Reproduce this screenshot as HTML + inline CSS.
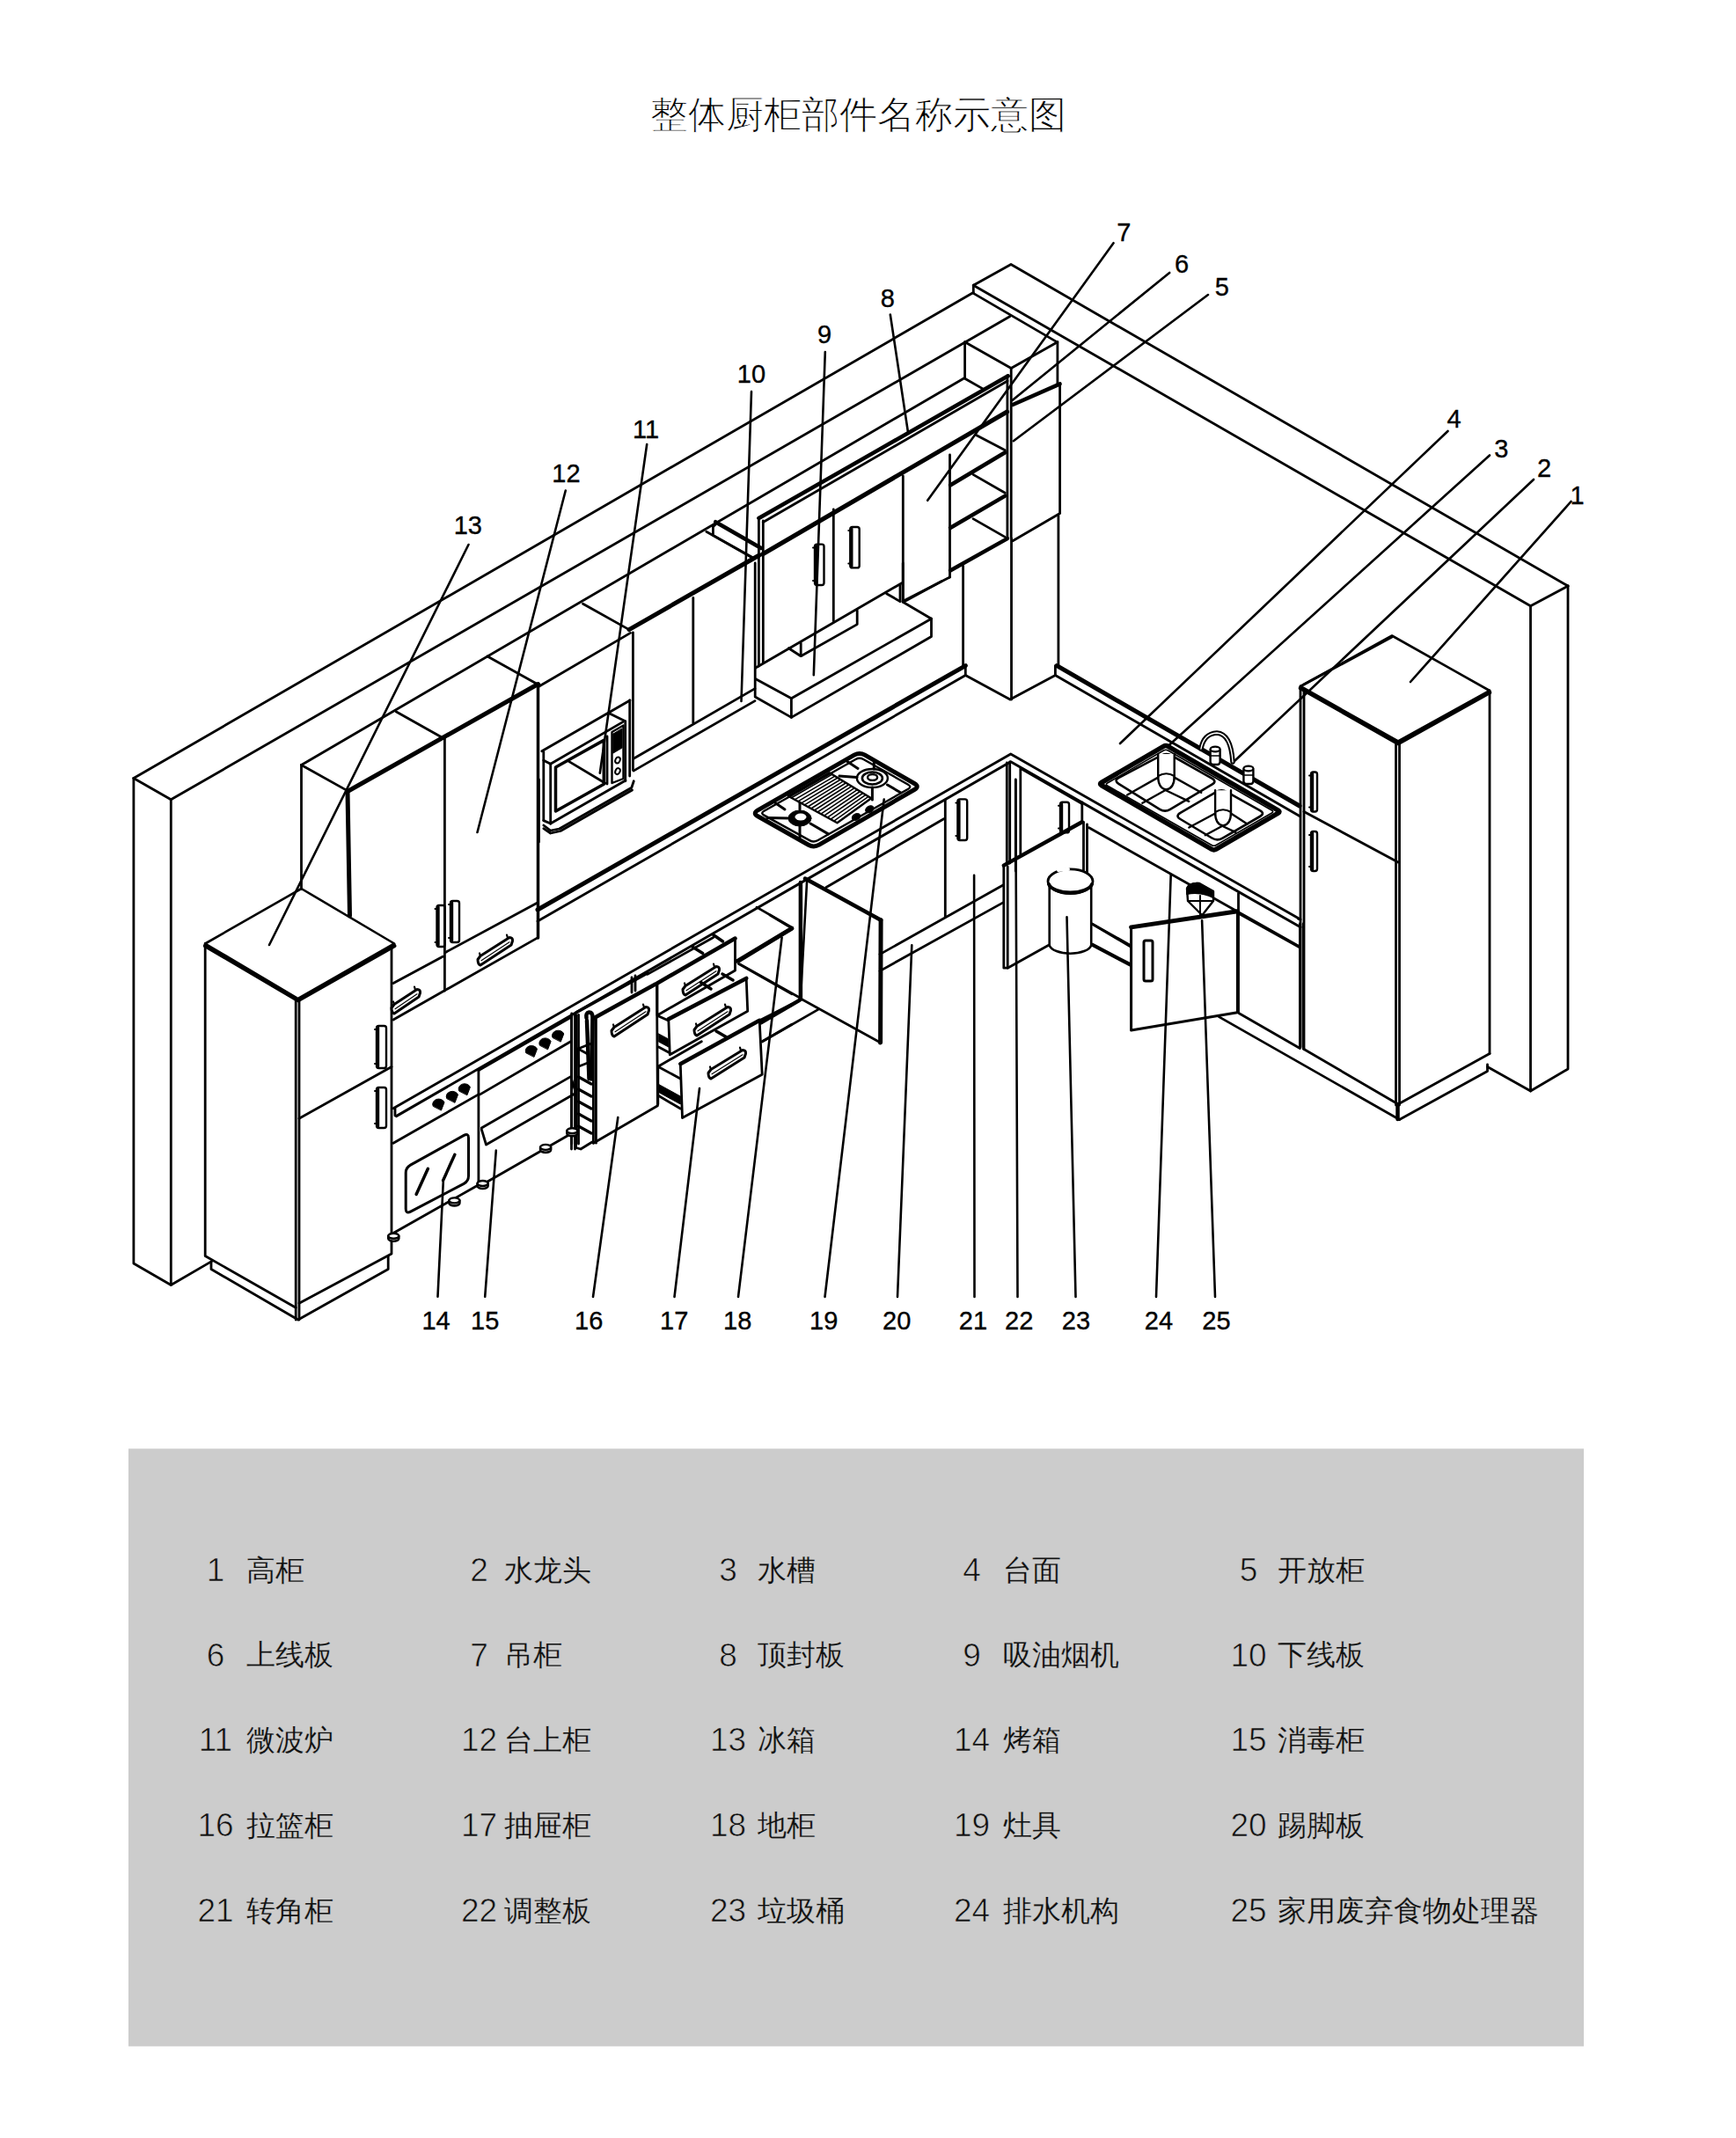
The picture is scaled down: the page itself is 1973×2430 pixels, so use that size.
<!DOCTYPE html>
<html><head><meta charset="utf-8"><style>
html,body{margin:0;padding:0;background:#fff;}
body{width:1973px;height:2430px;position:relative;overflow:hidden;font-family:"Liberation Sans",sans-serif;}
svg{position:absolute;left:0;top:0;}
</style></head><body>
<svg width="1973" height="2430" viewBox="0 0 1973 2430">
<rect x="146" y="1646.5" width="1654" height="679.3" fill="#cccccc"/>
<g fill="none" stroke="#000" stroke-linecap="round" stroke-linejoin="round">
<polyline points="151.9,884.5 1106.2,332.5" stroke-width="2.8"/>
<polyline points="151.9,884.5 194.3,908.8" stroke-width="2.8"/>
<polyline points="151.9,884.5 151.9,1436.0 194.3,1460.5" stroke-width="2.8"/>
<polyline points="194.3,908.8 194.3,1460.5 240.5,1433.6" stroke-width="2.8"/>
<polyline points="194.3,908.8 1148.0,359.5" stroke-width="2.8"/>
<polyline points="1106.3,324.2 1149.0,300.5 1782.0,666.0" stroke-width="2.8"/>
<polyline points="1106.3,324.2 1106.3,333.4 1200.2,388.1" stroke-width="2.8"/>
<polyline points="1106.3,324.2 1739.5,688.8" stroke-width="2.8"/>
<polyline points="1739.5,688.8 1782.0,666.0" stroke-width="2.8"/>
<polyline points="1739.5,688.8 1739.5,1240.0 1782.0,1215.0 1782.0,666.0" stroke-width="2.8"/>
<polyline points="1690.5,1212.5 1739.5,1240.0" stroke-width="2.8"/>
<polygon points="233.2,1072.5 342.5,1010.0 448.2,1072.5 338.8,1135.0" stroke-width="2.6" fill="#fff"/>
<polyline points="233.2,1075.0 338.8,1137.0 448.2,1075.0" stroke-width="4.5"/>
<polyline points="233.2,1072.5 233.2,1427.5 336.2,1486.2" stroke-width="2.8"/>
<polyline points="336.2,1135.0 336.2,1500.0" stroke-width="2.8"/>
<polyline points="340.0,1135.0 340.0,1500.0" stroke-width="2.8"/>
<polyline points="445.0,1077.5 445.0,1425.0 340.0,1481.2" stroke-width="2.8"/>
<polyline points="340.0,1271.2 445.0,1212.5" stroke-width="2.8"/>
<polyline points="240.0,1433.8 240.0,1442.5 338.8,1500.0 441.2,1442.5 441.2,1427.5" stroke-width="2.8"/>
<polyline points="342.5,869.5 1095.5,430.0" stroke-width="2.8"/>
<polyline points="450.0,808.8 502.5,838.2" stroke-width="2.8"/>
<polyline points="342.5,869.5 342.5,1010.0" stroke-width="2.8"/>
<polyline points="342.5,869.5 396.0,899.4" stroke-width="2.8"/>
<polyline points="395.0,899.5 397.5,1041.0" stroke-width="5"/>
<polyline points="395.0,899.5 611.5,777.5" stroke-width="5"/>
<polyline points="554.0,746.0 611.5,778.0" stroke-width="2.8"/>
<polyline points="505.4,838.0 505.4,1126.0" stroke-width="2.8"/>
<polyline points="611.5,778.0 611.5,1066.0" stroke-width="3.5"/>
<polyline points="447.0,1117.5 503.2,1087.2" stroke-width="2.8"/>
<polyline points="505.4,1082.9 611.4,1025.8" stroke-width="2.8"/>
<polyline points="447.0,1159.0 611.4,1065.6" stroke-width="2.8"/>
<polyline points="447.0,1259.8 1148.7,857.0 1478.0,1045.0" stroke-width="2.8"/>
<polyline points="450.4,1268.6 1148.7,865.8 1478.0,1053.8" stroke-width="3"/>
<polyline points="449.0,1259.8 449.0,1268.0" stroke-width="2.8"/>
<polygon points="1478.0,780.0 1582.0,722.5 1693.0,785.0 1589.0,842.5" stroke-width="2.6" fill="#fff"/>
<polyline points="1478.0,782.0 1589.0,845.0 1693.0,787.0" stroke-width="4.5"/>
<polyline points="1482.0,778.0 1582.0,724.0" stroke-width="2.8"/>
<polyline points="1478.0,780.0 1478.0,1190.0" stroke-width="2.8"/>
<polyline points="1482.0,785.0 1482.0,1192.5" stroke-width="2.8"/>
<polyline points="1586.5,842.5 1586.5,1256.0" stroke-width="2.8"/>
<polyline points="1590.5,844.0 1590.5,1256.0" stroke-width="2.8"/>
<polyline points="1588.5,1255.0 1588.5,1272.0" stroke-width="4.5"/>
<polyline points="1693.0,785.0 1693.0,1197.5" stroke-width="2.8"/>
<polyline points="1482.0,1192.5 1589.0,1255.0 1693.0,1197.5" stroke-width="2.8"/>
<polyline points="1482.0,922.5 1589.0,980.0" stroke-width="2.8"/>
<polyline points="1590.5,1272.5 1690.5,1217.5 1690.5,1210.0" stroke-width="2.8"/>
<polyline points="612.8,780.0 716.5,719.4" stroke-width="2.8"/>
<polyline points="662.5,686.2 715.0,715.6" stroke-width="2.8"/>
<polyline points="715.0,715.6 863.0,631.0" stroke-width="5"/>
<polyline points="719.4,718.8 719.4,875.0" stroke-width="2.8"/>
<polyline points="612.4,886.0 612.4,957.0" stroke-width="2.8"/>
<polyline points="615.8,853.8 716.0,796.0" stroke-width="2.8"/>
<polyline points="715.7,795.8 715.7,882.0" stroke-width="2.8"/>
<polyline points="617.8,854.6 617.8,932.6" stroke-width="2.8"/>
<polyline points="617.8,864.2 625.7,868.3" stroke-width="2.8"/>
<polyline points="625.7,868.3 707.8,820.6" stroke-width="2.8"/>
<polyline points="692.9,811.1 710.7,819.8" stroke-width="2.8"/>
<polyline points="625.7,868.3 625.7,936.0" stroke-width="2.8"/>
<polyline points="710.7,819.8 710.7,887.8" stroke-width="2.8"/>
<polyline points="625.7,936.0 711.0,887.0" stroke-width="2.8"/>
<polyline points="617.8,932.6 625.7,936.0" stroke-width="2.8"/>
<polygon points="631.5,872.0 686.3,841.4 686.3,891.2 631.5,922.0" stroke-width="3.5" fill="none"/>
<polyline points="646.5,865.4 688.0,890.3" stroke-width="2.8"/>
<polyline points="690.0,837.0 690.0,891.0" stroke-width="2.8"/>
<polygon points="695.5,832.0 708.5,824.5 708.5,885.0 695.5,890.0" stroke-width="2.4" fill="none"/>
<polygon points="697,834 707,828 707,850 697,856" fill="#000"/>
<ellipse cx="702" cy="864" rx="2.6" ry="3.6" stroke-width="2" fill="none" transform="rotate(25 702 864)"/>
<ellipse cx="702" cy="876.6" rx="2.6" ry="3.6" stroke-width="2" fill="none" transform="rotate(25 702 876.6)"/>
<polyline points="617.8,938.0 625.7,944.0 635.7,942.0 717.8,895.3 720.3,887.8" stroke-width="2.8"/>
<polyline points="617.8,941.7 625.7,947.0 637.0,944.5 718.5,898.0" stroke-width="2.8"/>
<polyline points="787.8,679.4 787.8,821.3" stroke-width="2.8"/>
<polyline points="720.0,862.3 858.0,782.6" stroke-width="2.8"/>
<polyline points="720.0,876.1 858.0,796.6" stroke-width="2.8"/>
<polyline points="802.8,604.3 852.6,632.6" stroke-width="2.8"/>
<polyline points="813.2,593.2 865.0,623.0" stroke-width="4.5"/>
<polyline points="810.4,598.8 810.4,608.4 856.0,634.0" stroke-width="2.8"/>
<polyline points="810.4,598.8 813.2,596.0" stroke-width="2.8"/>
<polyline points="862.4,589.0 862.4,757.0" stroke-width="2.8"/>
<polyline points="867.3,592.0 867.3,753.0" stroke-width="2.8"/>
<polyline points="862.4,589.0 1145.7,427.3" stroke-width="4.5"/>
<polyline points="867.3,593.5 1145.0,433.0" stroke-width="2.8"/>
<polyline points="866.5,630.0 1144.6,468.0" stroke-width="5"/>
<polyline points="947.3,579.0 947.3,706.0" stroke-width="2.8"/>
<polyline points="1026.3,541.0 1026.3,683.0" stroke-width="2.8"/>
<polyline points="1026.8,682.9 1079.5,656.0" stroke-width="2.8"/>
<polyline points="1079.5,517.0 1079.5,656.0" stroke-width="2.8"/>
<polyline points="858.9,759.0 1024.9,662.7" stroke-width="2.8"/>
<polyline points="858.9,771.7 899.4,793.8" stroke-width="2.8"/>
<polyline points="899.4,793.8 1058.5,703.2" stroke-width="2.8"/>
<polyline points="1058.5,703.2 1026.2,684.2" stroke-width="2.8"/>
<polyline points="1026.2,684.2 1026.2,640.0" stroke-width="2.8"/>
<polyline points="1007.6,674.7 1023.0,683.6" stroke-width="2.8"/>
<polyline points="1023.0,665.2 1023.0,683.6" stroke-width="2.8"/>
<polyline points="899.4,793.8 899.4,815.4" stroke-width="2.8"/>
<polyline points="858.2,640.0 858.2,792.0 899.4,815.4 1058.5,723.5 1058.5,703.2" stroke-width="2.8"/>
<polyline points="896.3,736.8 910.2,745.7 974.2,709.6 974.2,693.7" stroke-width="2.8"/>
<polyline points="910.2,731.1 910.2,745.7" stroke-width="2.8"/>
<polyline points="1026.8,684.2 1070.0,660.8" stroke-width="2.8"/>
<polyline points="1096.6,388.7 1149.2,418.5 1201.9,388.7" stroke-width="2.8"/>
<polyline points="1096.6,388.7 1096.6,430.2 1117.0,441.9" stroke-width="2.8"/>
<polyline points="1149.2,418.5 1149.2,612.0" stroke-width="2.8"/>
<polyline points="1144.9,426.9 1144.9,612.0" stroke-width="2.8"/>
<polyline points="1149.5,612.0 1149.5,795.0" stroke-width="2.8"/>
<polyline points="1201.9,388.7 1201.9,437.3" stroke-width="2.8"/>
<polyline points="1151.0,460.0 1204.6,436.4" stroke-width="4.5"/>
<polyline points="1204.6,436.4 1204.6,583.5 1151.0,614.7" stroke-width="2.8"/>
<polyline points="1202.9,586.0 1202.9,755.8" stroke-width="2.8"/>
<polyline points="1094.6,643.3 1094.6,757.5" stroke-width="2.8"/>
<polyline points="1109.4,494.4 1142.3,511.7" stroke-width="2.8"/>
<polyline points="1080.0,551.5 1142.3,514.3" stroke-width="4.5"/>
<polyline points="1106.0,539.4 1142.3,560.2" stroke-width="2.8"/>
<polyline points="1080.0,600.0 1142.3,563.6" stroke-width="4.5"/>
<polyline points="1106.0,589.6 1142.3,610.4" stroke-width="2.8"/>
<polyline points="1080.0,648.5 1144.9,612.1" stroke-width="4.5"/>
<polyline points="611.0,1034.0 1097.3,756.6" stroke-width="5"/>
<polyline points="611.0,1047.0 1097.3,767.5" stroke-width="2.8"/>
<polyline points="1097.3,756.6 1097.3,767.5 1148.0,795.0 1199.4,767.5 1199.4,756.6" stroke-width="2.8"/>
<polyline points="1201.2,756.6 1477.0,916.0" stroke-width="5"/>
<rect x="926.0" y="618.6" width="10.5" height="46.4" rx="2.5" stroke-width="2.4"/>
<line x1="927.5" y1="620.6" x2="927.5" y2="663.0" stroke-width="3.4"/>
<line x1="924.0" y1="622.6" x2="927.0" y2="622.6" stroke-width="2"/>
<line x1="924.0" y1="660.0" x2="927.0" y2="660.0" stroke-width="2"/>
<rect x="966.3" y="599.0" width="10.4" height="46.4" rx="2.5" stroke-width="2.4"/>
<line x1="967.8" y1="601.0" x2="967.8" y2="643.4" stroke-width="3.4"/>
<line x1="964.3" y1="603.0" x2="967.3" y2="603.0" stroke-width="2"/>
<line x1="964.3" y1="640.4" x2="967.3" y2="640.4" stroke-width="2"/>
<rect x="428.0" y="1166.0" width="11.0" height="48.0" rx="2.5" stroke-width="2.4"/>
<line x1="429.5" y1="1168.0" x2="429.5" y2="1212.0" stroke-width="3.4"/>
<line x1="426.0" y1="1170.0" x2="429.0" y2="1170.0" stroke-width="2"/>
<line x1="426.0" y1="1209.0" x2="429.0" y2="1209.0" stroke-width="2"/>
<rect x="428.0" y="1236.0" width="11.0" height="46.0" rx="2.5" stroke-width="2.4"/>
<line x1="429.5" y1="1238.0" x2="429.5" y2="1280.0" stroke-width="3.4"/>
<line x1="426.0" y1="1240.0" x2="429.0" y2="1240.0" stroke-width="2"/>
<line x1="426.0" y1="1277.0" x2="429.0" y2="1277.0" stroke-width="2"/>
<rect x="496.5" y="1029.0" width="9.1" height="47.0" rx="2.5" stroke-width="2.4"/>
<line x1="498.0" y1="1031.0" x2="498.0" y2="1074.0" stroke-width="3.4"/>
<line x1="494.5" y1="1033.0" x2="497.5" y2="1033.0" stroke-width="2"/>
<line x1="494.5" y1="1071.0" x2="497.5" y2="1071.0" stroke-width="2"/>
<rect x="512.0" y="1024.0" width="10.0" height="47.0" rx="2.5" stroke-width="2.4"/>
<line x1="513.5" y1="1026.0" x2="513.5" y2="1069.0" stroke-width="3.4"/>
<line x1="510.0" y1="1028.0" x2="513.0" y2="1028.0" stroke-width="2"/>
<line x1="510.0" y1="1066.0" x2="513.0" y2="1066.0" stroke-width="2"/>
<rect x="1490.0" y="877.5" width="7.0" height="45.0" rx="2.5" stroke-width="2.4"/>
<line x1="1491.5" y1="879.5" x2="1491.5" y2="920.5" stroke-width="3.4"/>
<line x1="1488.0" y1="881.5" x2="1491.0" y2="881.5" stroke-width="2"/>
<line x1="1488.0" y1="917.5" x2="1491.0" y2="917.5" stroke-width="2"/>
<rect x="1490.0" y="945.0" width="7.0" height="45.0" rx="2.5" stroke-width="2.4"/>
<line x1="1491.5" y1="947.0" x2="1491.5" y2="988.0" stroke-width="3.4"/>
<line x1="1488.0" y1="949.0" x2="1491.0" y2="949.0" stroke-width="2"/>
<line x1="1488.0" y1="985.0" x2="1491.0" y2="985.0" stroke-width="2"/>
<path d="M546.0,1086.5 L579.0,1065.5 Q583.0,1065.5 582.5,1069.5 L581.0,1074.0 L546.0,1097.0 Q543.0,1096.0 543.0,1090.5 Z" fill="#fff" stroke-width="3"/>
<polyline points="547.0,1091.8 579.0,1070.8" stroke-width="1.1"/>
<polyline points="546.0,1086.5 545.0,1083.5" stroke-width="2.2"/>
<polyline points="577.0,1066.0 576.0,1062.5" stroke-width="2.2"/>
<path d="M448.0,1141.5 L474.0,1124.5 Q478.0,1124.5 477.5,1128.5 L476.0,1133.0 L448.0,1152.0 Q445.0,1151.0 445.0,1145.5 Z" fill="#fff" stroke-width="3"/>
<polyline points="449.0,1146.8 474.0,1129.8" stroke-width="1.1"/>
<polyline points="448.0,1141.5 447.0,1138.5" stroke-width="2.2"/>
<polyline points="472.0,1125.0 471.0,1121.5" stroke-width="2.2"/>
<path d="M861.3,927.8 Q855.2,924.4 861.3,920.9 L970.8,858.2 Q976.9,854.7 983.0,858.2 L1039.2,890.5 Q1045.3,894.0 1039.2,897.5 L931.0,960.2 Q924.9,963.7 918.8,960.3 Z" stroke-width="5"/>
<path d="M868.4,926.6 Q864.0,924.2 868.4,921.7 L972.5,863.0 Q976.9,860.5 981.3,863.0 L1032.1,891.7 Q1036.5,894.2 1032.2,896.7 L929.2,955.3 Q924.9,957.8 920.5,955.4 Z" stroke-width="2.4"/>
<polygon points="895.8,904.8 942.6,878.2 990.2,907.3 951.5,935.2" stroke-width="2.4" fill="none"/>
<polyline points="899.5,906.8 945.8,880.1" stroke-width="1.6"/>
<polyline points="903.2,908.9 948.9,882.1" stroke-width="1.6"/>
<polyline points="906.9,910.9 952.1,884.0" stroke-width="1.6"/>
<polyline points="910.7,912.9 955.3,886.0" stroke-width="1.6"/>
<polyline points="914.4,914.9 958.5,887.9" stroke-width="1.6"/>
<polyline points="918.1,917.0 961.6,889.8" stroke-width="1.6"/>
<polyline points="921.8,919.0 964.8,891.8" stroke-width="1.6"/>
<polyline points="925.5,921.0 968.0,893.7" stroke-width="1.6"/>
<polyline points="929.2,923.0 971.2,895.7" stroke-width="1.6"/>
<polyline points="932.9,925.1 974.3,897.6" stroke-width="1.6"/>
<polyline points="936.6,927.1 977.5,899.5" stroke-width="1.6"/>
<polyline points="940.4,929.1 980.7,901.5" stroke-width="1.6"/>
<polyline points="944.1,931.1 983.9,903.4" stroke-width="1.6"/>
<polyline points="947.8,933.2 987.0,905.4" stroke-width="1.6"/>
<ellipse cx="909" cy="930" rx="13" ry="9" stroke-width="1" fill="#000" transform="rotate(0 909 930)"/>
<ellipse cx="910" cy="928.5" rx="6.5" ry="4" fill="#fff" stroke="none"/>
<ellipse cx="991.4" cy="884.5" rx="17.5" ry="10.5" stroke-width="2.4" fill="none" transform="rotate(0 991.4 884.5)"/>
<ellipse cx="991.4" cy="884.5" rx="11.5" ry="7" stroke-width="2.6" fill="none" transform="rotate(0 991.4 884.5)"/>
<ellipse cx="991.6" cy="883.5" rx="5.5" ry="3.4" stroke-width="2.4" fill="none" transform="rotate(0 991.6 883.5)"/>
<polyline points="872.0,929.5 896.5,930.0" stroke-width="3"/>
<polyline points="909.0,939.5 909.0,952.0" stroke-width="3"/>
<polyline points="921.0,936.0 941.4,947.9" stroke-width="3"/>
<polyline points="909.0,920.0 909.0,912.0" stroke-width="3"/>
<polyline points="881.0,912.5 892.0,920.0" stroke-width="3"/>
<polyline points="954.0,882.0 974.0,883.5" stroke-width="3"/>
<polyline points="991.4,895.0 991.4,909.0" stroke-width="3"/>
<polyline points="1008.5,892.0 1023.8,901.0" stroke-width="3"/>
<polyline points="993.3,866.7 993.3,874.0" stroke-width="3"/>
<polyline points="963.0,865.5 975.0,873.5" stroke-width="3"/>
<ellipse cx="973" cy="928.5" rx="5" ry="3.6" stroke-width="1" fill="#000" transform="rotate(-30 973 928.5)"/>
<ellipse cx="988.3" cy="919.8" rx="5" ry="3.6" stroke-width="1" fill="#000" transform="rotate(-30 988.3 919.8)"/>
<path d="M492.1,1257.0 a6.8,5.779999999999999 0 1 1 12.9,-4.1 l-3.4,8.8 z" fill="#000" stroke="#000" stroke-width="1"/>
<path d="M507.6,1248.3 a6.8,5.779999999999999 0 1 1 12.9,-4.1 l-3.4,8.8 z" fill="#000" stroke="#000" stroke-width="1"/>
<path d="M521.5,1239.7 a6.8,5.779999999999999 0 1 1 12.9,-4.1 l-3.4,8.8 z" fill="#000" stroke="#000" stroke-width="1"/>
<polyline points="447.0,1299.3 543.9,1243.9" stroke-width="2.8"/>
<polyline points="543.9,1216.2 543.9,1347.5" stroke-width="2.8"/>
<path d="M461.2,1333.0 Q461.2,1327.0 466.5,1324.1 L527.3,1290.4 Q532.5,1287.5 532.5,1293.5 L532.5,1336.5 Q532.5,1342.5 527.2,1345.3 L466.6,1377.2 Q461.2,1380.0 461.2,1374.0 Z" stroke-width="3"/>
<polyline points="473.1,1357.4 486.4,1328.3" stroke-width="3.5"/>
<polyline points="503.6,1341.6 516.8,1312.4" stroke-width="3.5"/>
<polyline points="447.5,1401.2 542.5,1347.5" stroke-width="2.8"/>
<path d="M597.6,1196.4 a6.8,5.779999999999999 0 1 1 12.9,-4.1 l-3.4,8.8 z" fill="#000" stroke="#000" stroke-width="1"/>
<path d="M613.2,1187.8 a6.8,5.779999999999999 0 1 1 12.9,-4.1 l-3.4,8.8 z" fill="#000" stroke="#000" stroke-width="1"/>
<path d="M627.9,1179.1 a6.8,5.779999999999999 0 1 1 12.9,-4.1 l-3.4,8.8 z" fill="#000" stroke="#000" stroke-width="1"/>
<polyline points="543.9,1216.2 649.5,1155.6" stroke-width="3.5"/>
<polyline points="545.6,1243.9 649.5,1183.3" stroke-width="2.8"/>
<polyline points="547.3,1282.0 649.5,1223.1" stroke-width="2.8"/>
<polyline points="547.3,1283.7 552.5,1301.0 654.6,1242.2 649.5,1226.6" stroke-width="2.8"/>
<polyline points="546.2,1347.5 650.0,1288.0" stroke-width="2.8"/>
<polyline points="649.5,1154.0 649.5,1306.0" stroke-width="2.8"/>
<polyline points="653.5,1154.0 653.5,1306.0" stroke-width="2.8"/>
<polyline points="674.4,1157.5 745.0,1118.5" stroke-width="4.5"/>
<polyline points="674.4,1157.5 674.4,1299.2" stroke-width="2.8"/>
<polyline points="677.4,1157.0 677.4,1299.2" stroke-width="2.8"/>
<polyline points="746.5,1118.5 747.4,1256.8 674.4,1299.2" stroke-width="2.8"/>
<path d="M698.0,1167.5 L734.0,1144.5 Q738.0,1144.5 737.5,1148.5 L736.0,1153.0 L698.0,1178.0 Q695.0,1177.0 695.0,1171.5 Z" fill="#fff" stroke-width="3"/>
<polyline points="699.0,1172.8 734.0,1149.8" stroke-width="1.1"/>
<polyline points="698.0,1167.5 697.0,1164.5" stroke-width="2.2"/>
<polyline points="732.0,1145.0 731.0,1141.5" stroke-width="2.2"/>
<polyline points="655.0,1150.8 735.8,1105.9" stroke-width="3.5"/>
<polyline points="649.7,1152.0 649.7,1300.0" stroke-width="2.8"/>
<polyline points="654.6,1153.4 654.6,1304.5 660.0,1306.0 673.0,1298.0" stroke-width="2.8"/>
<polyline points="657.5,1153.4 657.5,1300.0" stroke-width="2.8"/>
<polyline points="657.5,1224.0 672.0,1232.0" stroke-width="3.2"/>
<polyline points="657.5,1238.0 672.0,1246.0" stroke-width="3.2"/>
<polyline points="657.5,1252.0 672.0,1260.0" stroke-width="3.2"/>
<polyline points="657.5,1266.0 672.0,1274.0" stroke-width="3.2"/>
<polyline points="657.5,1280.0 672.0,1288.0" stroke-width="3.2"/>
<polygon points="657.0,1192.0 672.0,1186.0 673.0,1206.0 658.0,1212.0" stroke-width="2.5" fill="none"/>
<polyline points="657.0,1192.0 668.0,1198.0" stroke-width="2.8"/>
<path d="M666.5,1157 q-1,-6 3,-6.5 q4,0 4,6 l-1.5,70" stroke-width="4.5"/>
<polyline points="667.0,1160.0 669.5,1226.0" stroke-width="4.5"/>
<polyline points="718.0,1111.0 718.0,1128.0" stroke-width="2.8"/>
<polyline points="722.0,1109.0 722.0,1126.0" stroke-width="2.8"/>
<polygon points="747.0,1117.5 835.5,1066.5 835.5,1103.0 747.0,1154.0" stroke-width="2.8" fill="#fff"/>
<polyline points="747.0,1117.5 835.5,1066.5" stroke-width="4.5"/>
<path d="M779.0,1120.5 L814.0,1098.5 Q818.0,1098.5 817.5,1102.5 L816.0,1107.0 L779.0,1131.0 Q776.0,1130.0 776.0,1124.5 Z" fill="#fff" stroke-width="3"/>
<polyline points="780.0,1125.8 814.0,1103.8" stroke-width="1.1"/>
<polyline points="779.0,1120.5 778.0,1117.5" stroke-width="2.2"/>
<polyline points="812.0,1099.0 811.0,1095.5" stroke-width="2.2"/>
<polyline points="735.8,1107.4 810.7,1065.5" stroke-width="2.8"/>
<polyline points="786.8,1076.0 798.7,1083.4" stroke-width="3.5"/>
<polyline points="810.7,1062.5 821.5,1070.0" stroke-width="3.5"/>
<polygon points="759.8,1158.3 848.2,1111.9 849.7,1149.3 761.3,1198.7" stroke-width="2.8" fill="#fff"/>
<polyline points="759.8,1158.3 848.2,1111.9" stroke-width="4.5"/>
<path d="M792.0,1166.5 L827.0,1144.5 Q831.0,1144.5 830.5,1148.5 L829.0,1153.0 L792.0,1177.0 Q789.0,1176.0 789.0,1170.5 Z" fill="#fff" stroke-width="3"/>
<polyline points="793.0,1171.8 827.0,1149.8" stroke-width="1.1"/>
<polyline points="792.0,1166.5 791.0,1163.5" stroke-width="2.2"/>
<polyline points="825.0,1145.0 824.0,1141.5" stroke-width="2.2"/>
<polyline points="748.6,1155.0 759.8,1160.0" stroke-width="2.8"/>
<polyline points="748.6,1190.0 759.8,1196.0" stroke-width="2.8"/>
<polygon points="748.6,1175 759.8,1181 759.8,1190 748.6,1184" fill="#000"/>
<polyline points="796.5,1116.5 808.0,1124.0" stroke-width="3.5"/>
<polyline points="821.0,1107.0 833.0,1114.0" stroke-width="3.5"/>
<polygon points="773.3,1209.2 863.2,1159.8 866.2,1221.2 775.5,1270.6" stroke-width="2.8" fill="#fff"/>
<polyline points="773.3,1209.2 863.2,1159.8" stroke-width="4.5"/>
<path d="M808.0,1215.5 L844.0,1193.5 Q848.0,1193.5 847.5,1197.5 L846.0,1202.0 L808.0,1226.0 Q805.0,1225.0 805.0,1219.5 Z" fill="#fff" stroke-width="3"/>
<polyline points="809.0,1220.8 844.0,1198.8" stroke-width="1.1"/>
<polyline points="808.0,1215.5 807.0,1212.5" stroke-width="2.2"/>
<polyline points="842.0,1194.0 841.0,1190.5" stroke-width="2.2"/>
<polyline points="747.8,1212.2 797.3,1183.8" stroke-width="2.8"/>
<polyline points="747.8,1212.2 773.3,1226.0" stroke-width="2.8"/>
<polyline points="747.8,1245.0 773.3,1260.0" stroke-width="2.8"/>
<polygon points="747.8,1232 773.3,1246 773.3,1255 747.8,1241" fill="#000"/>
<polyline points="747.8,1212.2 747.8,1255.0" stroke-width="2.8"/>
<polyline points="814.0,1172.0 826.0,1179.0" stroke-width="3.5"/>
<polyline points="837.7,1092.4 900.0,1055.0" stroke-width="4.5"/>
<polyline points="866.2,1183.8 900.0,1164.3" stroke-width="2.8"/>
<polyline points="864.7,1159.8 900.0,1141.8" stroke-width="4"/>
<polyline points="839.2,1095.4 900.0,1129.9" stroke-width="2.8"/>
<polyline points="875.1,1040.0 900.0,1055.0" stroke-width="2.8"/>
<path d="M542.6,1345 L542.6,1348 A6,3 0 0 0 554.6,1348 L554.6,1345" fill="#fff" stroke-width="2.6"/>
<ellipse cx="548.6" cy="1345" rx="6" ry="3" stroke-width="2.4" fill="#fff" transform="rotate(0 548.6 1345)"/>
<path d="M510.4,1364.4 L510.4,1367.4 A6,3 0 0 0 522.4,1367.4 L522.4,1364.4" fill="#fff" stroke-width="2.6"/>
<ellipse cx="516.4" cy="1364.4" rx="6" ry="3" stroke-width="2.4" fill="#fff" transform="rotate(0 516.4 1364.4)"/>
<path d="M614.1,1303.9 L614.1,1306.9 A6,3 0 0 0 626.1,1306.9 L626.1,1303.9" fill="#fff" stroke-width="2.6"/>
<ellipse cx="620.1" cy="1303.9" rx="6" ry="3" stroke-width="2.4" fill="#fff" transform="rotate(0 620.1 1303.9)"/>
<path d="M644.3,1285.2 L644.3,1288.2 A6,3 0 0 0 656.3,1288.2 L656.3,1285.2" fill="#fff" stroke-width="2.6"/>
<ellipse cx="650.3" cy="1285.2" rx="6" ry="3" stroke-width="2.4" fill="#fff" transform="rotate(0 650.3 1285.2)"/>
<path d="M441.3,1404.7 L441.3,1407.7 A6,3 0 0 0 453.3,1407.7 L453.3,1404.7" fill="#fff" stroke-width="2.6"/>
<ellipse cx="447.3" cy="1404.7" rx="6" ry="3" stroke-width="2.4" fill="#fff" transform="rotate(0 447.3 1404.7)"/>
<polyline points="532.5,619.0 306.0,1074.0" stroke-width="2.6"/>
<polyline points="642.8,557.5 542.5,946.0" stroke-width="2.6"/>
<polyline points="735.2,505.0 681.8,878.7" stroke-width="2.6"/>
<polyline points="854.0,445.0 842.5,797.0" stroke-width="2.6"/>
<polyline points="937.8,400.0 924.8,767.2" stroke-width="2.6"/>
<polyline points="1011.8,357.5 1031.8,490.0" stroke-width="2.6"/>
<polyline points="1265.5,276.2 1054.2,568.8" stroke-width="2.6"/>
<polyline points="1329.2,310.0 1150.5,455.0" stroke-width="2.6"/>
<polyline points="1373.0,335.0 1151.8,501.2" stroke-width="2.6"/>
<polyline points="1645.5,490.0 1273.0,845.0" stroke-width="2.6"/>
<polyline points="1693.0,517.5 1328.0,847.5" stroke-width="2.6"/>
<polyline points="1743.0,545.0 1403.0,865.0" stroke-width="2.6"/>
<polyline points="1785.5,570.0 1603.0,775.0" stroke-width="2.6"/>
<polyline points="497.5,1473.8 503.8,1342.5" stroke-width="2.6"/>
<polyline points="551.2,1473.8 563.8,1307.5" stroke-width="2.6"/>
<polyline points="674.0,1474.0 702.3,1270.0" stroke-width="2.6"/>
<polyline points="766.5,1474.0 795.0,1237.0" stroke-width="2.6"/>
<polyline points="839.0,1474.0 888.6,1065.5" stroke-width="2.6"/>
<polyline points="937.5,1474.0 1004.7,908.6" stroke-width="2.6"/>
<polyline points="939.0,1008.5 1072.6,930.8" stroke-width="2.8"/>
<polyline points="1074.3,909.2 1074.3,1041.4" stroke-width="2.8"/>
<rect x="1088.4" y="908.4" width="10.8" height="46.6" rx="2.5" stroke-width="2.4"/>
<line x1="1089.9" y1="910.4" x2="1089.9" y2="953.0" stroke-width="3.4"/>
<line x1="1086.4" y1="912.4" x2="1089.4" y2="912.4" stroke-width="2"/>
<line x1="1086.4" y1="950.0" x2="1089.4" y2="950.0" stroke-width="2"/>
<polyline points="1000.0,1084.6 1140.0,1006.0" stroke-width="2.8"/>
<polyline points="1000.0,1103.6 1140.0,1025.9" stroke-width="2.8"/>
<polyline points="1144.3,866.9 1144.3,981.0" stroke-width="2.8"/>
<polyline points="1147.7,866.0 1147.7,981.0" stroke-width="2.8"/>
<polyline points="1159.8,873.8 1159.8,970.6" stroke-width="2.8"/>
<polyline points="1154.3,886.0 1154.3,990.0" stroke-width="2.8"/>
<polyline points="1140.8,983.6 1229.8,934.3" stroke-width="4.5"/>
<polyline points="1140.8,983.6 1140.8,1100.2 1145.2,1100.2 1191.8,1074.3" stroke-width="2.8"/>
<polyline points="1145.2,985.0 1145.2,1100.2" stroke-width="2.8"/>
<polyline points="1231.5,934.3 1231.5,991.3" stroke-width="2.8"/>
<polyline points="1235.5,937.0 1235.5,991.3" stroke-width="2.8"/>
<polyline points="1229.8,911.8 1229.8,934.3" stroke-width="2.8"/>
<rect x="1205.0" y="911.8" width="10.0" height="34.6" rx="2.5" stroke-width="2.4"/>
<line x1="1206.5" y1="913.8" x2="1206.5" y2="944.4" stroke-width="3.4"/>
<line x1="1203.0" y1="915.8" x2="1206.0" y2="915.8" stroke-width="2"/>
<line x1="1203.0" y1="941.4" x2="1206.0" y2="941.4" stroke-width="2"/>
<polyline points="1160.7,873.8 1229.8,913.6" stroke-width="2.8"/>
<polyline points="1241.0,1050.0 1285.0,1076.0" stroke-width="2.8"/>
<polyline points="1241.0,1074.3 1285.0,1097.6" stroke-width="2.8"/>
<path d="M1192.7,1004 L1192.7,1074.3 A24,11 0 0 0 1240.2,1074.3 L1240.2,1004" fill="#fff" stroke-width="2.6"/>
<ellipse cx="1216.5" cy="1001.7" rx="25.5" ry="13.8" stroke-width="2.8" fill="#fff" transform="rotate(0 1216.5 1001.7)"/>
<path d="M1192,1005 A25,12 0 0 0 1241,1005" stroke-width="4"/>
<path d="M1203,989 A25,13.8 0 0 1 1214,988" stroke="#fff" stroke-width="4"/>
<path d="M1251.8,892.5 Q1249.2,891.0 1251.8,889.5 L1322.3,848.3 Q1324.9,846.8 1327.5,848.3 L1452.7,921.1 Q1455.3,922.6 1452.7,924.1 L1382.2,965.2 Q1379.6,966.7 1377.0,965.2 Z" stroke-width="5.5"/>
<path d="M1258.6,893.0 Q1256.0,891.5 1258.6,890.0 L1322.4,853.0 Q1325.0,851.5 1327.6,853.0 L1445.4,921.0 Q1448.0,922.5 1445.4,924.0 L1382.2,960.5 Q1379.6,962.0 1377.0,960.5 Z" stroke-width="1.6"/>
<path d="M1271.4,890.8 Q1265.5,887.1 1271.7,883.9 L1319.7,858.7 Q1325.9,855.5 1332.0,859.0 L1377.3,884.6 Q1383.4,888.1 1377.4,891.7 L1330.0,919.9 Q1324.0,923.5 1318.1,919.8 Z" stroke-width="2.6"/>
<path d="M1316.2,857 L1316.2,882 Q1316.2,896 1325.5,897.5 Q1334.7,896 1334.7,882 L1334.7,857" stroke-width="2.4" fill="#fff"/>
<path d="M1316.2,882 Q1325.5,876.5 1334.7,882" stroke-width="2.2"/>
<polyline points="1316.2,883.6 1281.1,903.5" stroke-width="2.4"/>
<polyline points="1334.7,883.6 1365.2,900.8" stroke-width="2.4"/>
<polyline points="1298.3,912.7 1325.5,897.5" stroke-width="2.4"/>
<polyline points="1325.5,898.5 1351.3,910.8" stroke-width="2.4"/>
<path d="M1341.5,931.0 Q1335.5,927.4 1341.5,923.9 L1382.2,900.2 Q1388.2,896.7 1394.3,900.1 L1431.9,921.1 Q1438.0,924.5 1431.9,928.0 L1389.5,952.6 Q1383.4,956.1 1377.4,952.5 Z" stroke-width="2.6"/>
<path d="M1381.1,898.2 L1381.1,923 Q1381.1,937 1390,938.5 Q1399,937 1399,923 L1399,898.2" stroke-width="2.4" fill="#fff"/>
<path d="M1381.1,923 Q1390,917.5 1399,923" stroke-width="2.2"/>
<polyline points="1381.1,924.5 1351.3,940.5" stroke-width="2.4"/>
<polyline points="1399.0,924.5 1417.5,936.6" stroke-width="2.4"/>
<polyline points="1369.8,949.2 1389.7,938.5" stroke-width="2.4"/>
<polyline points="1390.5,939.5 1404.3,945.8" stroke-width="2.4"/>
<path d="M1365,851 Q1368,834 1383,833 Q1399,834 1401,866" stroke-width="5.5"/>
<path d="M1365,851 Q1368,834 1383,833 Q1399,834 1401,866" stroke="#fff" stroke-width="1.4"/>
<rect x="1375.6" y="850" width="11" height="19" rx="3" fill="#fff" stroke-width="2.4"/>
<ellipse cx="1381.1" cy="851.5" rx="5.5" ry="2.8" stroke-width="2.2" fill="#fff" transform="rotate(0 1381.1 851.5)"/>
<polyline points="1375.6,859.0 1386.6,859.0" stroke-width="1.6"/>
<rect x="1413.4" y="872" width="11" height="19" rx="3" fill="#fff" stroke-width="2.4"/>
<ellipse cx="1418.9" cy="873.5" rx="5.5" ry="2.8" stroke-width="2.2" fill="#fff" transform="rotate(0 1418.9 873.5)"/>
<polyline points="1413.4,881.0 1424.4,881.0" stroke-width="1.6"/>
<polyline points="1237.7,940.8 1475.4,1075.0" stroke-width="2.8"/>
<polygon points="1285.6,1053.9 1406.4,1035.7 1406.4,1150.8 1285.6,1170.9" stroke-width="3" fill="none"/>
<polyline points="1285.6,1053.9 1406.4,1035.7" stroke-width="5"/>
<rect x="1300" y="1069" width="10" height="46" rx="2" stroke-width="3"/>
<polyline points="1407.5,1015.6 1407.5,1151.0" stroke-width="2.8"/>
<polyline points="1408.3,1038.6 1477.4,1077.0" stroke-width="2.8"/>
<polyline points="1408.3,1151.7 1477.4,1191.5" stroke-width="2.8"/>
<polyline points="1385.3,1155.6 1590.5,1272.5" stroke-width="2.8"/>
<polyline points="1241.5,1050.1 1285.6,1075.0" stroke-width="2.8"/>
<polyline points="1241.5,1073.1 1285.6,1096.1" stroke-width="2.8"/>
<path d="M1349,1010 Q1352,1003 1363,1004 L1379,1013 L1379,1024 L1368,1038 L1366,1040 L1364,1038 L1350,1024 Z" fill="#fff" stroke-width="2.4"/>
<path d="M1349,1010 Q1352,1003 1363,1004 L1379,1013 L1379,1020 Q1364,1013 1349,1016 Z" fill="#000" stroke-width="2"/>
<polyline points="1364.0,1018.0 1364.0,1040.0" stroke-width="2"/>
<polyline points="1350.0,1024.0 1379.0,1024.0" stroke-width="2"/>
<polyline points="1477.4,1050.0 1477.4,1190.0" stroke-width="2.8"/>
<polyline points="1481.2,1050.0 1481.2,1192.0" stroke-width="2.8"/>
<polyline points="1475.4,1044.3 1477.4,1045.0" stroke-width="2.8"/>
<polyline points="1020.0,1474.0 1036.3,1074.3" stroke-width="2.6"/>
<polyline points="1107.5,1474.0 1107.1,994.8" stroke-width="2.6"/>
<polyline points="1156.5,1474.0 1154.3,886.6" stroke-width="2.6"/>
<polyline points="1222.5,1474.0 1212.5,1042.3" stroke-width="2.6"/>
<polyline points="1314.0,1474.0 1330.7,994.5" stroke-width="2.6"/>
<polyline points="1381.0,1474.0 1366.1,1046.3" stroke-width="2.6"/>
<polyline points="909.9,1003.1 909.9,1135.7" stroke-width="4.5"/>
<polygon points="917.2,999.5 1001.1,1045.7 1000.6,1185.0 909.9,1135.0" stroke-width="2.6" fill="none"/>
<polyline points="915.0,998.5 1001.1,1045.7" stroke-width="4.5"/>
<polyline points="1001.1,1045.7 1000.6,1185.0" stroke-width="5"/>
<polyline points="860.0,1031.1 900.1,1054.2" stroke-width="2.8"/>
<polyline points="840.0,1091.8 900.1,1055.4" stroke-width="4.5"/>
<polyline points="840.5,1095.6 909.9,1134.5" stroke-width="2.8"/>
<polyline points="864.9,1162.4 908.6,1136.9" stroke-width="4.5"/>
<polyline points="866.5,1183.7 929.9,1147.4" stroke-width="2.8"/>
<polyline points="1199.4,767.5 1477.0,927.5" stroke-width="2.8"/>
</g>
<text x="739" y="144.5" font-size="42.5" fill="#000" stroke="#fff" stroke-width="0.9" style="font-family:'Liberation Sans',sans-serif">整体厨柜部件名称示意图</text>
<text x="531.8" y="607.2" font-size="29" text-anchor="middle" fill="#000" stroke="#000" stroke-width="0.35" style="font-family:'Liberation Sans',sans-serif">13</text>
<text x="643.4" y="547.8" font-size="29" text-anchor="middle" fill="#000" stroke="#000" stroke-width="0.35" style="font-family:'Liberation Sans',sans-serif">12</text>
<text x="734" y="497.5" font-size="29" text-anchor="middle" fill="#000" stroke="#000" stroke-width="0.35" style="font-family:'Liberation Sans',sans-serif">11</text>
<text x="853.9" y="435.2" font-size="29" text-anchor="middle" fill="#000" stroke="#000" stroke-width="0.35" style="font-family:'Liberation Sans',sans-serif">10</text>
<text x="937.1" y="390.3" font-size="29" text-anchor="middle" fill="#000" stroke="#000" stroke-width="0.35" style="font-family:'Liberation Sans',sans-serif">9</text>
<text x="1008.9" y="348.8" font-size="29" text-anchor="middle" fill="#000" stroke="#000" stroke-width="0.35" style="font-family:'Liberation Sans',sans-serif">8</text>
<text x="1277.4" y="273.9" font-size="29" text-anchor="middle" fill="#000" stroke="#000" stroke-width="0.35" style="font-family:'Liberation Sans',sans-serif">7</text>
<text x="1343" y="309.7" font-size="29" text-anchor="middle" fill="#000" stroke="#000" stroke-width="0.35" style="font-family:'Liberation Sans',sans-serif">6</text>
<text x="1388.9" y="336.4" font-size="29" text-anchor="middle" fill="#000" stroke="#000" stroke-width="0.35" style="font-family:'Liberation Sans',sans-serif">5</text>
<text x="1652.6" y="486.1" font-size="29" text-anchor="middle" fill="#000" stroke="#000" stroke-width="0.35" style="font-family:'Liberation Sans',sans-serif">4</text>
<text x="1706.2" y="520.3" font-size="29" text-anchor="middle" fill="#000" stroke="#000" stroke-width="0.35" style="font-family:'Liberation Sans',sans-serif">3</text>
<text x="1755" y="542.1" font-size="29" text-anchor="middle" fill="#000" stroke="#000" stroke-width="0.35" style="font-family:'Liberation Sans',sans-serif">2</text>
<text x="1792.5" y="573.2" font-size="29" text-anchor="middle" fill="#000" stroke="#000" stroke-width="0.35" style="font-family:'Liberation Sans',sans-serif">1</text>
<text x="495.6" y="1510.5" font-size="29" text-anchor="middle" fill="#000" stroke="#000" stroke-width="0.35" style="font-family:'Liberation Sans',sans-serif">14</text>
<text x="551.25" y="1510.5" font-size="29" text-anchor="middle" fill="#000" stroke="#000" stroke-width="0.35" style="font-family:'Liberation Sans',sans-serif">15</text>
<text x="669.25" y="1510.5" font-size="29" text-anchor="middle" fill="#000" stroke="#000" stroke-width="0.35" style="font-family:'Liberation Sans',sans-serif">16</text>
<text x="766.25" y="1510.5" font-size="29" text-anchor="middle" fill="#000" stroke="#000" stroke-width="0.35" style="font-family:'Liberation Sans',sans-serif">17</text>
<text x="838.25" y="1510.5" font-size="29" text-anchor="middle" fill="#000" stroke="#000" stroke-width="0.35" style="font-family:'Liberation Sans',sans-serif">18</text>
<text x="936.25" y="1510.5" font-size="29" text-anchor="middle" fill="#000" stroke="#000" stroke-width="0.35" style="font-family:'Liberation Sans',sans-serif">19</text>
<text x="1019.25" y="1510.5" font-size="29" text-anchor="middle" fill="#000" stroke="#000" stroke-width="0.35" style="font-family:'Liberation Sans',sans-serif">20</text>
<text x="1106" y="1510.5" font-size="29" text-anchor="middle" fill="#000" stroke="#000" stroke-width="0.35" style="font-family:'Liberation Sans',sans-serif">21</text>
<text x="1158.25" y="1510.5" font-size="29" text-anchor="middle" fill="#000" stroke="#000" stroke-width="0.35" style="font-family:'Liberation Sans',sans-serif">22</text>
<text x="1223" y="1510.5" font-size="29" text-anchor="middle" fill="#000" stroke="#000" stroke-width="0.35" style="font-family:'Liberation Sans',sans-serif">23</text>
<text x="1317" y="1510.5" font-size="29" text-anchor="middle" fill="#000" stroke="#000" stroke-width="0.35" style="font-family:'Liberation Sans',sans-serif">24</text>
<text x="1382.5" y="1510.5" font-size="29" text-anchor="middle" fill="#000" stroke="#000" stroke-width="0.35" style="font-family:'Liberation Sans',sans-serif">25</text>
<text x="245" y="1797" font-size="37" text-anchor="middle" fill="#111" stroke="#cccccc" stroke-width="0.7" style="font-family:'Liberation Sans',sans-serif">1</text>
<text x="280" y="1795.7" font-size="33" fill="#111" stroke="#cccccc" stroke-width="0.2" style="font-family:'Liberation Sans',sans-serif">高柜</text>
<text x="544.5" y="1797" font-size="37" text-anchor="middle" fill="#111" stroke="#cccccc" stroke-width="0.7" style="font-family:'Liberation Sans',sans-serif">2</text>
<text x="573" y="1795.7" font-size="33" fill="#111" stroke="#cccccc" stroke-width="0.2" style="font-family:'Liberation Sans',sans-serif">水龙头</text>
<text x="827.5" y="1797" font-size="37" text-anchor="middle" fill="#111" stroke="#cccccc" stroke-width="0.7" style="font-family:'Liberation Sans',sans-serif">3</text>
<text x="861" y="1795.7" font-size="33" fill="#111" stroke="#cccccc" stroke-width="0.2" style="font-family:'Liberation Sans',sans-serif">水槽</text>
<text x="1104.5" y="1797" font-size="37" text-anchor="middle" fill="#111" stroke="#cccccc" stroke-width="0.7" style="font-family:'Liberation Sans',sans-serif">4</text>
<text x="1140" y="1795.7" font-size="33" fill="#111" stroke="#cccccc" stroke-width="0.2" style="font-family:'Liberation Sans',sans-serif">台面</text>
<text x="1419" y="1797" font-size="37" text-anchor="middle" fill="#111" stroke="#cccccc" stroke-width="0.7" style="font-family:'Liberation Sans',sans-serif">5</text>
<text x="1451.5" y="1795.7" font-size="33" fill="#111" stroke="#cccccc" stroke-width="0.2" style="font-family:'Liberation Sans',sans-serif">开放柜</text>
<text x="245" y="1893.5" font-size="37" text-anchor="middle" fill="#111" stroke="#cccccc" stroke-width="0.7" style="font-family:'Liberation Sans',sans-serif">6</text>
<text x="280" y="1892.2" font-size="33" fill="#111" stroke="#cccccc" stroke-width="0.2" style="font-family:'Liberation Sans',sans-serif">上线板</text>
<text x="544.5" y="1893.5" font-size="37" text-anchor="middle" fill="#111" stroke="#cccccc" stroke-width="0.7" style="font-family:'Liberation Sans',sans-serif">7</text>
<text x="573" y="1892.2" font-size="33" fill="#111" stroke="#cccccc" stroke-width="0.2" style="font-family:'Liberation Sans',sans-serif">吊柜</text>
<text x="827.5" y="1893.5" font-size="37" text-anchor="middle" fill="#111" stroke="#cccccc" stroke-width="0.7" style="font-family:'Liberation Sans',sans-serif">8</text>
<text x="861" y="1892.2" font-size="33" fill="#111" stroke="#cccccc" stroke-width="0.2" style="font-family:'Liberation Sans',sans-serif">顶封板</text>
<text x="1104.5" y="1893.5" font-size="37" text-anchor="middle" fill="#111" stroke="#cccccc" stroke-width="0.7" style="font-family:'Liberation Sans',sans-serif">9</text>
<text x="1140" y="1892.2" font-size="33" fill="#111" stroke="#cccccc" stroke-width="0.2" style="font-family:'Liberation Sans',sans-serif">吸油烟机</text>
<text x="1419" y="1893.5" font-size="37" text-anchor="middle" fill="#111" stroke="#cccccc" stroke-width="0.7" style="font-family:'Liberation Sans',sans-serif">10</text>
<text x="1451.5" y="1892.2" font-size="33" fill="#111" stroke="#cccccc" stroke-width="0.2" style="font-family:'Liberation Sans',sans-serif">下线板</text>
<text x="245" y="1990" font-size="37" text-anchor="middle" fill="#111" stroke="#cccccc" stroke-width="0.7" style="font-family:'Liberation Sans',sans-serif">11</text>
<text x="280" y="1988.7" font-size="33" fill="#111" stroke="#cccccc" stroke-width="0.2" style="font-family:'Liberation Sans',sans-serif">微波炉</text>
<text x="544.5" y="1990" font-size="37" text-anchor="middle" fill="#111" stroke="#cccccc" stroke-width="0.7" style="font-family:'Liberation Sans',sans-serif">12</text>
<text x="573" y="1988.7" font-size="33" fill="#111" stroke="#cccccc" stroke-width="0.2" style="font-family:'Liberation Sans',sans-serif">台上柜</text>
<text x="827.5" y="1990" font-size="37" text-anchor="middle" fill="#111" stroke="#cccccc" stroke-width="0.7" style="font-family:'Liberation Sans',sans-serif">13</text>
<text x="861" y="1988.7" font-size="33" fill="#111" stroke="#cccccc" stroke-width="0.2" style="font-family:'Liberation Sans',sans-serif">冰箱</text>
<text x="1104.5" y="1990" font-size="37" text-anchor="middle" fill="#111" stroke="#cccccc" stroke-width="0.7" style="font-family:'Liberation Sans',sans-serif">14</text>
<text x="1140" y="1988.7" font-size="33" fill="#111" stroke="#cccccc" stroke-width="0.2" style="font-family:'Liberation Sans',sans-serif">烤箱</text>
<text x="1419" y="1990" font-size="37" text-anchor="middle" fill="#111" stroke="#cccccc" stroke-width="0.7" style="font-family:'Liberation Sans',sans-serif">15</text>
<text x="1451.5" y="1988.7" font-size="33" fill="#111" stroke="#cccccc" stroke-width="0.2" style="font-family:'Liberation Sans',sans-serif">消毒柜</text>
<text x="245" y="2087" font-size="37" text-anchor="middle" fill="#111" stroke="#cccccc" stroke-width="0.7" style="font-family:'Liberation Sans',sans-serif">16</text>
<text x="280" y="2085.7" font-size="33" fill="#111" stroke="#cccccc" stroke-width="0.2" style="font-family:'Liberation Sans',sans-serif">拉篮柜</text>
<text x="544.5" y="2087" font-size="37" text-anchor="middle" fill="#111" stroke="#cccccc" stroke-width="0.7" style="font-family:'Liberation Sans',sans-serif">17</text>
<text x="573" y="2085.7" font-size="33" fill="#111" stroke="#cccccc" stroke-width="0.2" style="font-family:'Liberation Sans',sans-serif">抽屉柜</text>
<text x="827.5" y="2087" font-size="37" text-anchor="middle" fill="#111" stroke="#cccccc" stroke-width="0.7" style="font-family:'Liberation Sans',sans-serif">18</text>
<text x="861" y="2085.7" font-size="33" fill="#111" stroke="#cccccc" stroke-width="0.2" style="font-family:'Liberation Sans',sans-serif">地柜</text>
<text x="1104.5" y="2087" font-size="37" text-anchor="middle" fill="#111" stroke="#cccccc" stroke-width="0.7" style="font-family:'Liberation Sans',sans-serif">19</text>
<text x="1140" y="2085.7" font-size="33" fill="#111" stroke="#cccccc" stroke-width="0.2" style="font-family:'Liberation Sans',sans-serif">灶具</text>
<text x="1419" y="2087" font-size="37" text-anchor="middle" fill="#111" stroke="#cccccc" stroke-width="0.7" style="font-family:'Liberation Sans',sans-serif">20</text>
<text x="1451.5" y="2085.7" font-size="33" fill="#111" stroke="#cccccc" stroke-width="0.2" style="font-family:'Liberation Sans',sans-serif">踢脚板</text>
<text x="245" y="2184" font-size="37" text-anchor="middle" fill="#111" stroke="#cccccc" stroke-width="0.7" style="font-family:'Liberation Sans',sans-serif">21</text>
<text x="280" y="2182.7" font-size="33" fill="#111" stroke="#cccccc" stroke-width="0.2" style="font-family:'Liberation Sans',sans-serif">转角柜</text>
<text x="544.5" y="2184" font-size="37" text-anchor="middle" fill="#111" stroke="#cccccc" stroke-width="0.7" style="font-family:'Liberation Sans',sans-serif">22</text>
<text x="573" y="2182.7" font-size="33" fill="#111" stroke="#cccccc" stroke-width="0.2" style="font-family:'Liberation Sans',sans-serif">调整板</text>
<text x="827.5" y="2184" font-size="37" text-anchor="middle" fill="#111" stroke="#cccccc" stroke-width="0.7" style="font-family:'Liberation Sans',sans-serif">23</text>
<text x="861" y="2182.7" font-size="33" fill="#111" stroke="#cccccc" stroke-width="0.2" style="font-family:'Liberation Sans',sans-serif">垃圾桶</text>
<text x="1104.5" y="2184" font-size="37" text-anchor="middle" fill="#111" stroke="#cccccc" stroke-width="0.7" style="font-family:'Liberation Sans',sans-serif">24</text>
<text x="1140" y="2182.7" font-size="33" fill="#111" stroke="#cccccc" stroke-width="0.2" style="font-family:'Liberation Sans',sans-serif">排水机构</text>
<text x="1419" y="2184" font-size="37" text-anchor="middle" fill="#111" stroke="#cccccc" stroke-width="0.7" style="font-family:'Liberation Sans',sans-serif">25</text>
<text x="1451.5" y="2182.7" font-size="33" fill="#111" stroke="#cccccc" stroke-width="0.2" style="font-family:'Liberation Sans',sans-serif">家用废弃食物处理器</text>
</svg>
</body></html>
